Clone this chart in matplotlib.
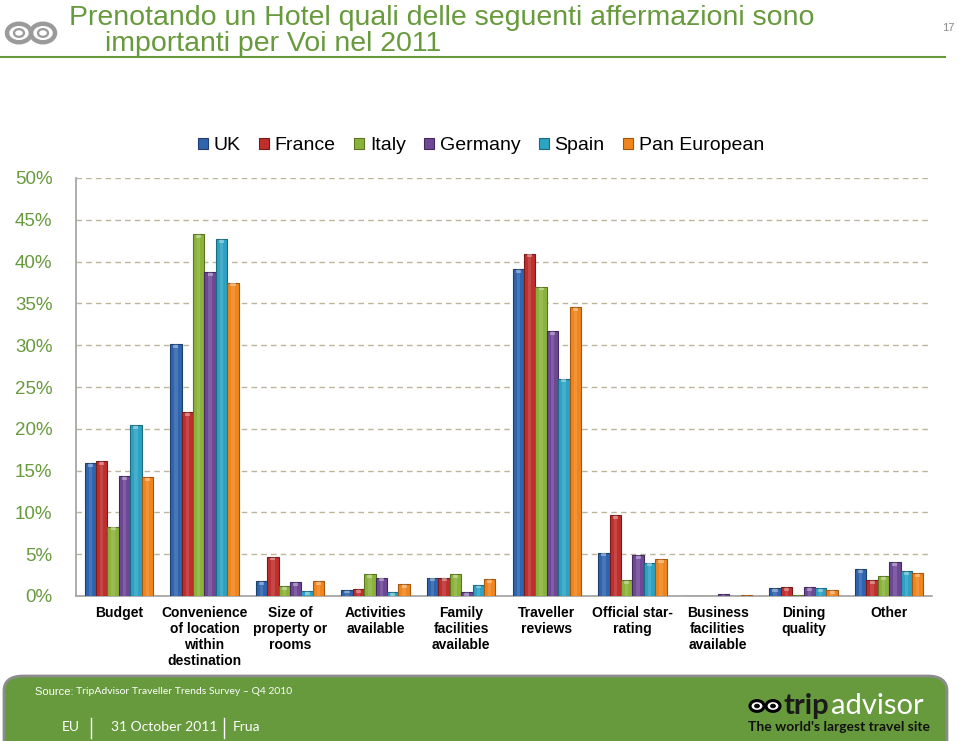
import numpy as np
import matplotlib
matplotlib.use('Agg')
import matplotlib.pyplot as plt
from matplotlib.patches import FancyBboxPatch, Circle

# ==============================================================================
# DATI
# ==============================================================================

categories = [
    "Budget",
    "Convenience\nof location\nwithin\ndestination",
    "Size of\nproperty or\nrooms",
    "Activities\navailable",
    "Family\nfacilities\navailable",
    "Traveller\nreviews",
    "Official star-\nrating",
    "Business\nfacilities\navailable",
    "Dining\nquality",
    "Other",
]

series_names = ["UK", "France", "Italy", "Germany", "Spain", "Pan European"]

uk      = [15.9, 30.1, 1.8, 0.75, 2.2, 39.1, 5.2, 0.05, 0.95, 3.2]
france  = [16.1, 22.0, 4.7, 0.8, 2.2, 40.95, 9.65, 0.05, 1.1, 1.9]
italy   = [8.3, 43.3, 1.2, 2.6, 2.6, 37.0, 1.9, 0.0, 0.15, 2.35]
germany = [14.35, 38.7, 1.7, 2.2, 0.5, 31.7, 4.9, 0.25, 1.1, 4.05]
spain   = [20.45, 42.7, 0.6, 0.5, 1.35, 26.0, 4.0, 0.0, 0.9, 2.95]
pan_eu  = [14.2, 37.5, 1.75, 1.45, 2.0, 34.6, 4.4, 0.1, 0.7, 2.75]

yticks = [0, 5, 10, 15, 20, 25, 30, 35, 40, 45, 50]

title_line1 = "Prenotando un Hotel quali delle seguenti affermazioni sono"
title_line2 = "importanti per Voi nel 2011"
source_text = "TripAdvisor Traveller Trends Survey \u2013 Q4 2010"

colors = ['#2f64ae', '#be2f2d', '#8bb33b', '#6e4897', '#2da2c3', '#f0851d']
edges  = ['#1d3f70', '#7a1b1a', '#58751f', '#432a5e', '#1a6a80', '#a5560c']
GREEN  = '#679a3c'

# ==============================================================================
# FIGURA
# ==============================================================================

fig = plt.figure(figsize=(9.6, 7.41), dpi=100)
W, H = 960.0, 741.0

def fx(px):
    return px / W

def fy(py):
    return 1 - py / H

ax = fig.add_axes([fx(76), fy(596), fx(932) - fx(76), fy(178) - fy(596)])

all_series = [uk, france, italy, germany, spain, pan_eu]
x = np.arange(len(categories))
bw = 0.8 / 6
for i, (vals, name) in enumerate(zip(all_series, series_names)):
    pos = x - 0.4 + bw * (i + 0.5)
    ax.bar(pos, vals, width=bw, color=colors[i], edgecolor=edges[i],
           linewidth=0.8, label=name, zorder=3)
    # piccolo riflesso chiaro (effetto 3D)
    for p, v in zip(pos, vals):
        if v > 0.3:
            ax.bar(p, 0.35, bottom=v - 0.45, width=bw * 0.45,
                   color='white', alpha=0.35, linewidth=0, zorder=4)
        ax.bar(p, v, width=bw * 0.3, color='white', alpha=0.12,
               linewidth=0, zorder=4)

ax.set_xlim(-0.5, len(categories) - 0.5)
ax.set_ylim(0, 50)
ax.set_yticks(yticks)
ax.set_yticklabels([f"{t}%" for t in yticks], fontsize=13.5, color=GREEN,
                   family=['Liberation Sans', 'DejaVu Sans'])
ax.set_xticks(x)
ax.set_xticklabels(categories, fontsize=10, fontweight='bold',
                   family=['Liberation Sans', 'DejaVu Sans'], linespacing=1.2)
ax.tick_params(axis='x', length=0, pad=7)
ax.tick_params(axis='y', length=0, pad=17)
ax.yaxis.grid(True, linestyle=(0, (4, 3)), color='#bdb59a', linewidth=1.0, zorder=0)
for s in ['top', 'right']:
    ax.spines[s].set_visible(False)
ax.spines['left'].set_color('#a0a0a0')
ax.spines['bottom'].set_color('#a0a0a0')
ax.spines['left'].set_linewidth(1.2)
ax.spines['bottom'].set_linewidth(1.2)

leg = fig.legend(loc='center', bbox_to_anchor=(fx(481), fy(146)), ncol=6,
                 frameon=False, handlelength=0.5, handleheight=0.5,
                 handletextpad=0.3, columnspacing=0.95,
                 prop={'family': ['Liberation Sans', 'DejaVu Sans'], 'size': 14})

# ==============================================================================
# TITOLO E DECORAZIONI
# ==============================================================================

title_font = ['Liberation Sans Narrow', 'Liberation Sans', 'DejaVu Sans']
fig.text(fx(69), fy(18), title_line1, fontsize=20.5, color=GREEN,
         family=title_font, va='center', ha='left')
fig.text(fx(105), fy(44), title_line2, fontsize=20.5, color=GREEN,
         family=title_font, va='center', ha='left')
fig.text(fx(948), fy(28), "17", fontsize=8, color='#8a8a8a', ha='center',
         va='center', family=title_font)
fig.add_artist(plt.Line2D([0, fx(945)], [fy(57), fy(57)], color=GREEN,
                          linewidth=1.5, transform=fig.transFigure))

# gufo grigio in alto a sinistra
for cx in (19, 43):
    fig.add_artist(Circle((fx(cx), fy(33)), 12 / W, transform=fig.transFigure,
                          facecolor='none', edgecolor='#9a9a9a', linewidth=3.2))
    fig.add_artist(Circle((fx(cx), fy(33)), 5 / W, transform=fig.transFigure,
                          facecolor='none', edgecolor='#9a9a9a', linewidth=1.6))

# ==============================================================================
# FOOTER
# ==============================================================================

footer = FancyBboxPatch((fx(4), fy(760)), fx(947) - fx(4), fy(676) - fy(760),
                        boxstyle="round,pad=0,rounding_size=0.02",
                        transform=fig.transFigure, facecolor=GREEN,
                        edgecolor='#8c8c8c', linewidth=2, clip_on=False)
fig.add_artist(footer)

foot_font = ['Lato', 'Open Sans', 'DejaVu Sans']
fig.text(fx(35), fy(692), "Source: ", fontsize=8, color='white', va='center',
         family=['Liberation Sans', 'DejaVu Sans'])
fig.text(fx(76), fy(692), source_text, fontsize=7.5, color='white', va='center',
         family=foot_font)
fig.text(fx(62), fy(727), "EU", fontsize=10, color='white', va='center',
         family=foot_font)
fig.add_artist(plt.Line2D([fx(91), fx(91)], [fy(718), fy(738)], color='white',
                          linewidth=1, transform=fig.transFigure))
fig.text(fx(111), fy(727), "31 October 2011", fontsize=10, color='white',
         va='center', family=foot_font)
fig.add_artist(plt.Line2D([fx(224), fx(224)], [fy(718), fy(738)], color='white',
                          linewidth=1, transform=fig.transFigure))
fig.text(fx(233), fy(727), "Frua", fontsize=10, color='white', va='center',
         family=foot_font)

# logo tripadvisor
for cx in (757, 773):
    fig.add_artist(Circle((fx(cx), fy(706)), 7 / W, transform=fig.transFigure,
                          facecolor='white', edgecolor='black', linewidth=2.2))
    fig.add_artist(Circle((fx(cx), fy(706)), 2.5 / W, transform=fig.transFigure,
                          facecolor='black', edgecolor='black', linewidth=0.5))
trip = fig.text(fx(784), fy(714), "trip", fontsize=21, fontweight='bold',
                color='#1a1a1a', va='baseline', family=foot_font)
fig.canvas.draw()
bb = trip.get_window_extent(renderer=fig.canvas.get_renderer())
fig.text(bb.x1 / W + 1 / W, fy(714), "advisor", fontsize=21, color='white',
         va='baseline', ha='left', family=foot_font)
fig.text(fx(839), fy(727), "The world's largest travel site", fontsize=10,
         fontweight='bold', color='#111111', va='center', ha='center',
         family=foot_font)

fig.savefig('out.png', dpi=100)
